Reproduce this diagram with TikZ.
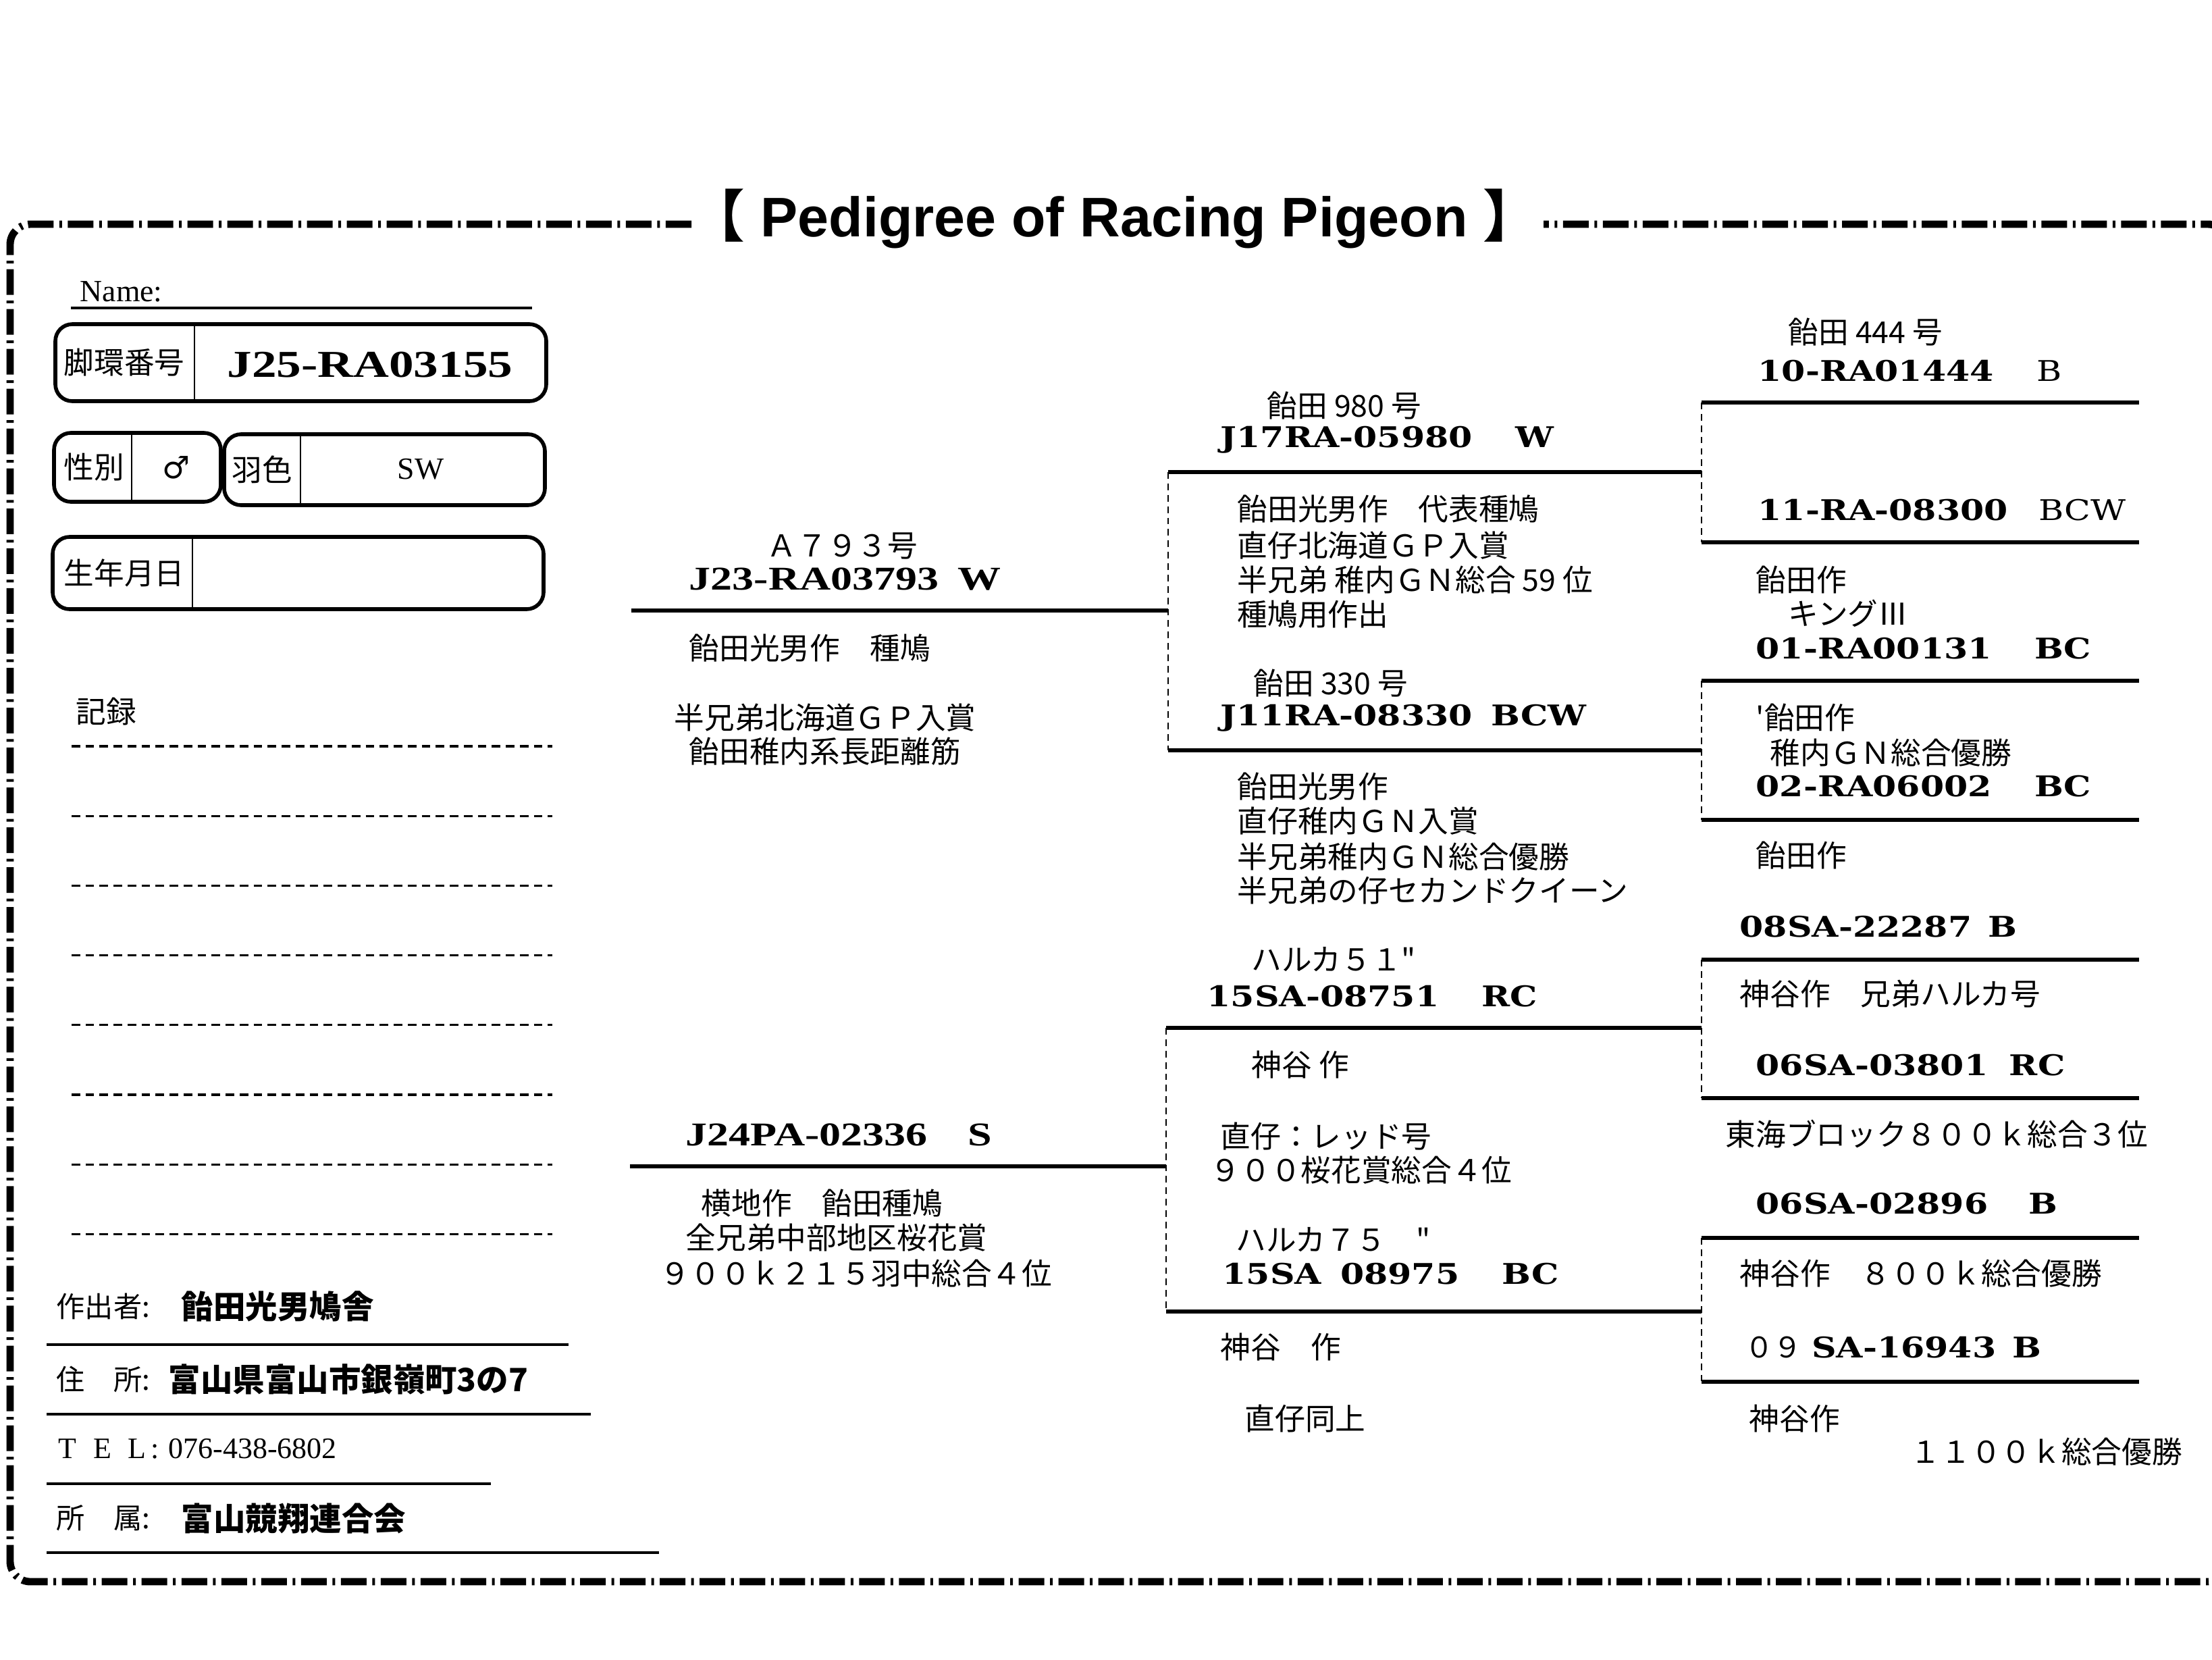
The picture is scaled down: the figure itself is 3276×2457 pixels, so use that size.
\documentclass[tikz,border=0pt]{standalone}
\usepackage{fontspec}
\setmainfont{Liberation Serif}
\newfontfamily\jpfont{Noto Sans CJK JP}
\newfontfamily\ringfont[FakeStretch=1.2]{DejaVu Serif}
\newfontfamily\idfont[FakeStretch=1.3]{Liberation Serif}
\newfontfamily\titlefont{Liberation Sans}
\newfontfamily\symfont{DejaVu Sans}

\tikzset{
  frameline/.style={line width=3.1pt, dash pattern=on 0.38cm off 0.085cm on 0.04cm off 0.085cm, rounded corners=0.3cm},
  infobox/.style={line width=1.6pt, rounded corners=0.25cm},
  cellline/.style={line width=0.8pt},
  signline/.style={line width=1pt},
  recline/.style={line width=0.9pt, dash pattern=on 3.6pt off 2.3pt},
  pedline/.style={line width=1.5pt},
  sibline/.style={line width=0.7pt, dash pattern=on 2.8pt off 2pt},
  titletxt/.style={inner sep=0pt, font=\titlefont\bfseries\fontsize{23.5}{26}\selectfont},
  jtxt/.style={anchor=west, inner sep=0pt, font=\jpfont\fontsize{12.7}{15}\selectfont},
  jbold/.style={anchor=west, inner sep=0pt, font=\jpfont\bfseries\fontsize{13.5}{16}\selectfont},
  latin/.style={anchor=west, inner sep=0pt, font=\fontsize{13}{15}\selectfont},
  idno/.style={anchor=west, inner sep=0pt, font=\idfont\bfseries\fontsize{14}{16}\selectfont},
  ringno/.style={anchor=west, inner sep=0pt, font=\ringfont\bfseries\fontsize{12}{14}\selectfont}
}

\begin{document}
\begin{tikzpicture}[x=0.01cm, y=-0.01cm]
    \path[use as bounding box] (0,0) rectangle (3276,2457);
    \clip (0,0) rectangle (3276,2457);

    % Outer frame and title
    \draw[frameline] (1024,332) -- (15,332) -- (15,2342) -- (3300,2342) -- (3300,332) -- (2286,332);
    \node[titletxt] (title) at (1650,324) {{\jpfont 【} Pedigree of Racing Pigeon {\jpfont 】}};

    % Name
    \node[latin] (name) at (118,432) {Name:};
    \draw[signline] (105,456) -- (788,456);

    % Ring number box
    \draw[infobox] (82,480) rectangle (809,594);
    \draw[cellline] (288,480) -- (288,594);
    \node[jtxt] (ringlbl) at (94,537) {脚環番号};
    \node[idno, anchor=center, font=\idfont\bfseries\fontsize{16}{18}\selectfont] (ringno) at (548,540) {J25-RA03155};

    % Sex and colour boxes
    \draw[infobox] (80,641) rectangle (327,743);
    \draw[cellline] (195,641) -- (195,743);
    \node[jtxt] (sexlbl) at (94,692) {性別};
    \node[inner sep=0pt, font=\symfont\fontsize{13}{15}\selectfont] (sex) at (261,692) {♂};
    \draw[infobox] (332,643) rectangle (807,748);
    \draw[cellline] (445,643) -- (445,748);
    \node[jtxt] (colourlbl) at (343,695) {羽色};
    \node[latin, anchor=center] (colour) at (623,695) {SW};

    % Birth date box
    \draw[infobox] (78,795) rectangle (805,902);
    \draw[cellline] (285,795) -- (285,902);
    \node[jtxt] (birthlbl) at (94,848) {生年月日};

    % Records
    \node[jtxt] (reclbl) at (112,1054) {記録};
    \foreach \i in {0,...,7}
        \draw[recline] (106,{1105+103.2*\i}) -- (818,{1105+103.2*\i});

    % Breeder details
    \node[jtxt, font=\jpfont\fontsize{12}{14}\selectfont] (breedlbl) at (83,1934) {作出者:};
    \node[jbold] (breeder) at (268,1934) {飴田光男鳩舎};
    \draw[signline] (69,1991) -- (842,1991);
    \node[jtxt, font=\jpfont\fontsize{12}{14}\selectfont] (addrlbl) at (83,2042) {住　所:};
    \node[jbold] (addr) at (249,2042) {富山県富山市銀嶺町3の7};
    \draw[signline] (69,2094) -- (875,2094);
    \node[latin, font=\fontsize{12.5}{14}\selectfont] (tel) at (86,2145) {T\hspace{7pt}E\hspace{7pt}L\hspace{2pt}:\hspace{4pt}076-438-6802};
    \draw[signline] (69,2197) -- (727,2197);
    \node[jtxt, font=\jpfont\fontsize{12}{14}\selectfont] (clublbl) at (83,2248) {所　属:};
    \node[jbold] (club) at (268,2248) {富山競翔連合会};
    \draw[signline] (69,2299) -- (976,2299);

    % Parents
    \coordinate (sire-l) at (935,904);
    \coordinate (sire-r) at (1730,904);
    \coordinate (dam-l) at (933,1727);
    \coordinate (dam-r) at (1727,1727);
    \draw[pedline] (sire-l) -- (sire-r);
    \draw[pedline] (dam-l) -- (dam-r);

    % Grandparents
    \coordinate (ss-l) at (1730,699);
    \coordinate (ss-r) at (2520,699);
    \coordinate (sd-l) at (1730,1111);
    \coordinate (sd-r) at (2520,1111);
    \coordinate (ds-l) at (1727,1522);
    \coordinate (ds-r) at (2520,1522);
    \coordinate (dd-l) at (1727,1942);
    \coordinate (dd-r) at (2520,1942);
    \draw[pedline] (ss-l) -- (ss-r);
    \draw[pedline] (sd-l) -- (sd-r);
    \draw[pedline] (ds-l) -- (ds-r);
    \draw[pedline] (dd-l) -- (dd-r);
    \draw[sibline] (ss-l) -- (sd-l);
    \draw[sibline] (ds-l) -- (dd-l);

    % Great-grandparents
    \foreach \n/\y in {sss/596, ssd/803, sds/1008, sdd/1214, dss/1421, dsd/1626, dds/1833, ddd/2046} {
        \coordinate (\n-l) at (2520,\y);
        \coordinate (\n-r) at (3168,\y);
        \draw[pedline] (\n-l) -- (\n-r);
    }
    \draw[sibline] (sss-l) -- (ssd-l);
    \draw[sibline] (sds-l) -- (sdd-l);
    \draw[sibline] (dss-l) -- (dsd-l);
    \draw[sibline] (dds-l) -- (ddd-l);

    % Sire
    \node[jtxt] (sire-name) at (1135,808) {Ａ７９３号};
    \node[idno] (sire-no) at (1020,857) {J23-RA03793\hspace{8pt}W};
    \node[jtxt] (sire-c1) at (1020,960) {飴田光男作　種鳩};
    \node[jtxt] (sire-c2) at (998,1063) {半兄弟北海道ＧＰ入賞};
    \node[jtxt] (sire-c3) at (1020,1113) {飴田稚内系長距離筋};

    % Dam
    \node[idno] (dam-no) at (1015,1680) {J24PA-02336\hspace{17pt}S};
    \node[jtxt] (dam-c1) at (1038,1782) {横地作　飴田種鳩};
    \node[jtxt] (dam-c2) at (1015,1833) {全兄弟中部地区桜花賞};
    \node[jtxt] (dam-c3) at (977,1885) {９００ｋ２１５羽中総合４位};

    % Sire's sire and dam
    \node[jtxt] (ss-name) at (1876,601) {飴田 980 号};
    \node[ringno] (ss-no) at (1807,651) {J17RA-05980\hspace{18pt}W};
    \node[jtxt] (ss-c1) at (1832,754) {飴田光男作　代表種鳩};
    \node[jtxt] (ss-c2) at (1832,808) {直仔北海道ＧＰ入賞};
    \node[jtxt] (ss-c3) at (1832,859) {半兄弟 稚内ＧＮ総合 59 位};
    \node[jtxt] (ss-c4) at (1832,910) {種鳩用作出};
    \node[jtxt] (sd-name) at (1856,1012) {飴田 330 号};
    \node[ringno] (sd-no) at (1807,1063) {J11RA-08330\hspace{8pt}BCW};
    \node[jtxt] (sd-c1) at (1832,1165) {飴田光男作};
    \node[jtxt] (sd-c2) at (1832,1216) {直仔稚内ＧＮ入賞};
    \node[jtxt] (sd-c3) at (1832,1269) {半兄弟稚内ＧＮ総合優勝};
    \node[jtxt] (sd-c4) at (1832,1318) {半兄弟の仔セカンドクイーン};

    % Dam's sire and dam
    \node[jtxt] (ds-name) at (1853,1421) {ハルカ５１"};
    \node[ringno] (ds-no) at (1787,1475) {15SA-08751\hspace{18pt}RC};
    \node[jtxt] (ds-c1) at (1853,1577) {神谷 作};
    \node[jtxt] (ds-c2) at (1807,1682) {直仔：レッド号};
    \node[jtxt] (ds-c3) at (1792,1733) {９００桜花賞総合４位};
    \node[jtxt] (dd-name) at (1830,1835) {ハルカ７５　"};
    \node[ringno] (dd-no) at (1810,1886) {15SA\hspace{8pt}08975\hspace{18pt}BC};
    \node[jtxt] (dd-c1) at (1807,1995) {神谷　作};
    \node[jtxt] (dd-c2) at (1843,2100) {直仔同上};

    % Great-grandparents, sire side
    \node[jtxt] (sss-name) at (2648,492) {飴田 444 号};
    \node[ringno] (sss-no) at (2603,549) {10-RA01444\hspace{18pt}{\mdseries B}};
    \node[ringno] (ssd-no) at (2603,755) {11-RA-08300\hspace{13pt}{\mdseries BCW}};
    \node[jtxt] (ssd-c1) at (2600,859) {飴田作};
    \node[jtxt] (sds-name) at (2648,908) {キングⅢ};
    \node[ringno] (sds-no) at (2600,960) {01-RA00131\hspace{18pt}BC};
    \node[jtxt] (sds-c1) at (2600,1063) {'飴田作};
    \node[jtxt] (sds-c2) at (2621,1115) {稚内ＧＮ総合優勝};
    \node[ringno] (sdd-no) at (2600,1164) {02-RA06002\hspace{18pt}BC};
    \node[jtxt] (sdd-c1) at (2600,1267) {飴田作};

    % Great-grandparents, dam side
    \node[ringno] (dss-no) at (2576,1372) {08SA-22287\hspace{7pt}B};
    \node[jtxt] (dss-c1) at (2576,1472) {神谷作　兄弟ハルカ号};
    \node[ringno] (dsd-no) at (2600,1577) {06SA-03801\hspace{9pt}RC};
    \node[jtxt] (dsd-c1) at (2555,1679) {東海ブロック８００ｋ総合３位};
    \node[ringno] (dds-no) at (2600,1782) {06SA-02896\hspace{17pt}B};
    \node[jtxt] (dds-c1) at (2576,1886) {神谷作　８００ｋ総合優勝};
    \node[ringno] (ddd-no) at (2584,1995) {{\jpfont\mdseries ０９}\hspace{4pt}SA-16943\hspace{7pt}B};
    \node[jtxt] (ddd-c1) at (2590,2101) {神谷作};
    \node[jtxt] (ddd-c2) at (2829,2150) {１１００ｋ総合優勝};
\end{tikzpicture}
\end{document}
